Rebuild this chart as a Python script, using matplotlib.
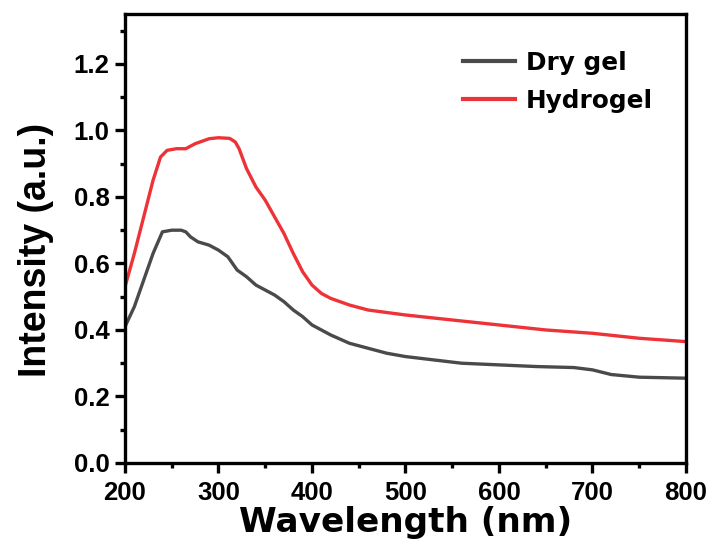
import matplotlib
matplotlib.use("Agg")
import matplotlib.pyplot as plt

plt.rcParams['font.family'] = ['Liberation Sans', 'DejaVu Sans']
plt.rcParams['font.weight'] = 'bold'

dry_x = [200, 210, 220, 230, 240, 250, 260, 265, 270, 278, 290, 300, 310, 320, 330, 340, 350,
         360, 370, 380, 390, 400, 420, 440, 460, 480, 500, 530, 560, 600, 640, 680, 700, 720,
         750, 800]
dry_y = [0.41, 0.47, 0.55, 0.63, 0.695, 0.70, 0.70, 0.695, 0.68, 0.665, 0.655, 0.64, 0.62,
         0.58, 0.56, 0.535, 0.52, 0.505, 0.485, 0.46, 0.44, 0.415, 0.385, 0.36, 0.345, 0.33,
         0.32, 0.31, 0.30, 0.295, 0.29, 0.287, 0.28, 0.266, 0.258, 0.255]

hyd_x = [200, 210, 220, 230, 238, 245, 255, 265, 275, 290, 300, 312, 318, 322, 326, 330, 340,
         350, 360, 370, 380, 390, 400, 410, 420, 440, 460, 500, 550, 600, 650, 700, 750, 800]
hyd_y = [0.53, 0.63, 0.74, 0.85, 0.92, 0.94, 0.945, 0.945, 0.96, 0.975, 0.978, 0.976, 0.965,
         0.945, 0.915, 0.885, 0.83, 0.79, 0.74, 0.69, 0.63, 0.575, 0.535, 0.51, 0.495, 0.475,
         0.46, 0.445, 0.43, 0.415, 0.40, 0.39, 0.375, 0.365]

labels = ["Dry gel", "Hydrogel"]
colors = ["#4a4a4a", "#EE3338"]

x_major = [200, 300, 400, 500, 600, 700, 800]
x_minor = [250, 350, 450, 550, 650, 750]
y_major = [0.0, 0.2, 0.4, 0.6, 0.8, 1.0, 1.2]
y_minor = [0.1, 0.3, 0.5, 0.7, 0.9, 1.1, 1.3]
y_ticklabels = ["0.0", "0.2", "0.4", "0.6", "0.8", "1.0", "1.2"]

fig = plt.figure(figsize=(7.14, 5.46), dpi=100)
ax = fig.add_axes([125 / 714, 1 - 463 / 546, 561 / 714, 449 / 546])

ax.plot(dry_x, dry_y, color=colors[0], lw=2.4, label=labels[0])
ax.plot(hyd_x, hyd_y, color=colors[1], lw=2.4, label=labels[1])

ax.set_xlim(200, 800)
ax.set_ylim(0, 1.35)
ax.set_xticks(x_major)
ax.set_xticks(x_minor, minor=True)
ax.set_yticks(y_major)
ax.set_yticks(y_minor, minor=True)
ax.set_yticklabels(y_ticklabels)

for s in ax.spines.values():
    s.set_linewidth(2.4)
ax.tick_params(which='major', direction='out', length=7, width=2.4, labelsize=18.5)
ax.tick_params(axis='x', which='major', pad=6)
ax.tick_params(axis='y', which='major', pad=4)
ax.tick_params(which='minor', direction='out', length=3.5, width=2.4)
for lab in ax.get_xticklabels() + ax.get_yticklabels():
    lab.set_fontweight('bold')

ax.set_xlabel("Wavelength (nm)", fontsize=24.7, fontweight='bold', labelpad=1,
              family=['DejaVu Sans'])
fig.text(36 / 714, 1 - 250 / 546, "Intensity (a.u.)", rotation=90, ha='center', va='center',
         fontsize=27, fontweight='bold')

leg = ax.legend(loc='upper left', bbox_to_anchor=((463 - 125) / 561, 1 - (51 - 14) / 449),
                frameon=False, borderpad=0, borderaxespad=0,
                prop={'size': 17.8, 'weight': 'bold', 'family': ['DejaVu Sans']},
                handlelength=2.1, handletextpad=0.45, labelspacing=0.56)
for h in leg.get_lines():
    h.set_linewidth(3)

fig.savefig("out.png", dpi=100)
